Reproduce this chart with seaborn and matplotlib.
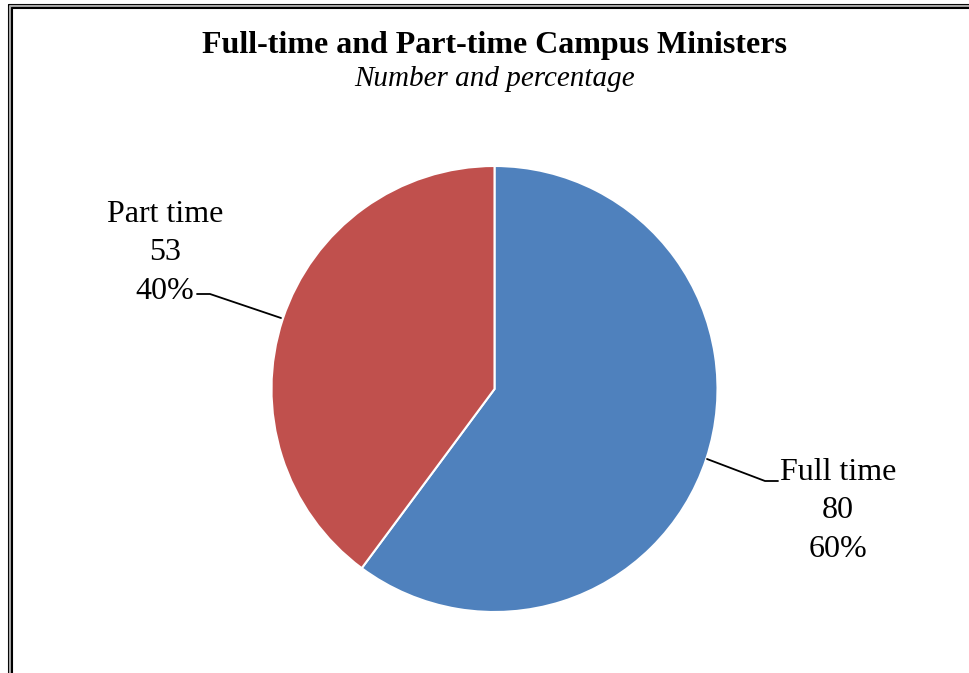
import matplotlib
matplotlib.use("Agg")
import matplotlib.pyplot as plt
import seaborn as sns
from matplotlib.lines import Line2D

categories = ["Full time", "Part time"]
counts = [80, 53]
percents = ["60%", "40%"]
colors = ["#4F81BD", "#C0504D"]

sns.set_theme(style="white")
plt.rcParams['font.family'] = ['Liberation Serif', 'DejaVu Serif']
plt.rcParams['text.color'] = 'black'

W, H = 969, 673
fig = plt.figure(figsize=(W / 100, H / 100), dpi=100)
ax = fig.add_axes([0, 0, 1, 1])

cx, cy, r = 494.5, H - 389, 223
ax.pie(counts, colors=colors, startangle=90, counterclock=False,
       center=(cx, cy), radius=r, frame=True,
       wedgeprops=dict(edgecolor='white', linewidth=1.5))
ax.set_xlim(0, W)
ax.set_ylim(0, H)
ax.set_aspect('equal')
ax.axis('off')

# labels
ax.text(838, H - 511, f"{categories[0]}\n{counts[0]}\n{percents[0]}",
        ha='center', va='center', fontsize=23, linespacing=1.41, color='black')
ax.text(165, H - 253, f"{categories[1]}\n{counts[1]}\n{percents[1]}",
        ha='center', va='center', fontsize=23, linespacing=1.41, color='black')

# leader lines
ax.plot([707, 765, 778], [H - 459, H - 481, H - 481], color='black', lw=1.3)
ax.plot([281, 210, 197], [H - 318, H - 294, H - 294], color='black', lw=1.3)

# titles
fig.text(495 / W, 1 - 45 / H, "Full-time and Part-time Campus Ministers",
         ha='center', va='center', fontsize=23, fontweight='bold', color='black')
fig.text(495 / W, 1 - 79 / H, "Number and percentage",
         ha='center', va='center', fontsize=21, fontstyle='italic', color='black')

# double border (left and top)
for pos, col, lw in [(8.5, 'black', 1.5), (10.2, '#aaaaaa', 1.5), (11.8, 'black', 1.5)]:
    fig.add_artist(Line2D([pos / W, pos / W], [0, 1 - (pos - 4) / H], color=col, lw=lw,
                          transform=fig.transFigure))
for pos, col, lw in [(4.5, 'black', 1.5), (6.2, '#aaaaaa', 1.5), (7.8, 'black', 1.5)]:
    fig.add_artist(Line2D([(pos + 4) / W, 1], [1 - pos / H, 1 - pos / H], color=col, lw=lw,
                          transform=fig.transFigure))

fig.savefig("out.png", dpi=100)
